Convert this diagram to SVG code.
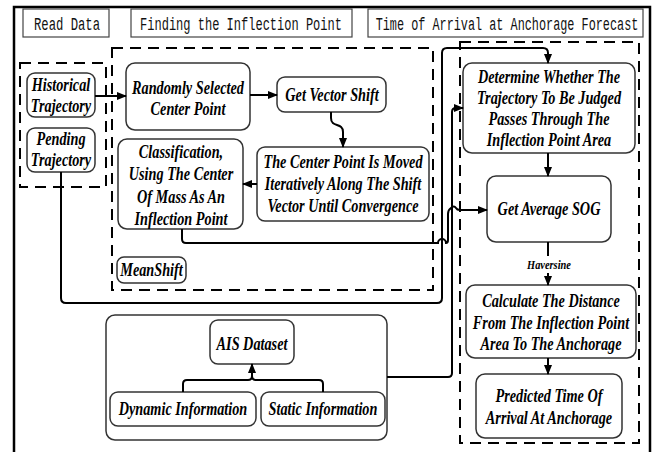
<svg xmlns="http://www.w3.org/2000/svg" width="656" height="452" viewBox="0 0 656 452">
<style>
.frame{fill:none;stroke:#000;stroke-width:2.5}
.hdr rect{fill:#fff;stroke:#444;stroke-width:1.2}
.hdr text{font-family:"Liberation Mono",monospace;font-size:18px;fill:#111;text-anchor:middle}
.dash{fill:none;stroke:#000;stroke-width:2;stroke-dasharray:11 7}
.node rect{fill:#fff;stroke:#333;stroke-width:1.5}
.node text{font-family:"Liberation Serif",serif;font-weight:bold;font-style:italic;font-size:19px;fill:#000;text-anchor:middle}
.conn path{fill:none;stroke:#000;stroke-width:2}
.lbl{font-family:"Liberation Serif",serif;font-weight:bold;font-style:italic;font-size:13px;fill:#000;text-anchor:middle}
</style>
<defs>
<marker id="arr" markerUnits="userSpaceOnUse" markerWidth="10" markerHeight="8" refX="9" refY="4" orient="auto">
<path d="M0,0 L10,4 L0,8 Z" fill="#000"/>
</marker>
</defs>
<rect width="656" height="452" fill="#fff"/>
<path class="frame" d="M14,452 V7 H650 V452"/>

<g id="hdr-read" class="hdr"><rect x="23" y="9" width="86" height="28"/><g transform="translate(67 0) scale(0.68 1)"><text x="0" y="30">Read Data</text></g></g>
<g id="hdr-find" class="hdr"><rect x="131" y="9" width="221" height="28"/><g transform="translate(241 0) scale(0.668 1)"><text x="0" y="30">Finding the Inflection Point</text></g></g>
<g id="hdr-time" class="hdr"><rect x="368" y="9" width="275" height="28"/><g transform="translate(507 0) scale(0.658 1)"><text x="0" y="30">Time of Arrival at Anchorage Forecast</text></g></g>

<g id="regions">
<rect class="dash" x="20" y="63" width="86" height="124"/>
<rect class="dash" x="112" y="48" width="321" height="242"/>
<rect class="dash" x="460" y="42" width="179" height="401"/>
</g>

<g id="historical" class="node"><rect x="27" y="73" width="68" height="44" rx="8"/><g transform="translate(61 0) scale(0.75 1)"><text x="0" y="91">Historical</text><text x="0" y="112">Trajectory</text></g></g>
<g id="pending" class="node"><rect x="27" y="128" width="68" height="44" rx="8"/><g transform="translate(61 0) scale(0.75 1)"><text x="0" y="145">Pending</text><text x="0" y="166">Trajectory</text></g></g>

<g id="random" class="node"><rect x="126" y="63" width="124" height="67" rx="9"/><g transform="translate(188 0) scale(0.75 1)"><text x="0" y="94">Randomly Selected</text><text x="0" y="115">Center Point</text></g></g>
<g id="vector" class="node"><rect x="277" y="77" width="109" height="35" rx="8"/><g transform="translate(332 0) scale(0.75 1)"><text x="0" y="101">Get Vector Shift</text></g></g>
<g id="moved" class="node"><rect x="257" y="147" width="172" height="74" rx="8"/><g transform="translate(343 0) scale(0.75 1)"><text x="0" y="168">The Center Point Is Moved</text><text x="0" y="190">Iteratively Along The Shift</text><text x="0" y="212">Vector Until Convergence</text></g></g>
<g id="classify" class="node"><rect x="118" y="139" width="125" height="90" rx="9"/><g transform="translate(181 0) scale(0.75 1)"><text x="0" y="158">Classification,</text><text x="0" y="180">Using The Center</text><text x="0" y="203">Of Mass As An</text><text x="0" y="225">Inflection Point</text></g></g>
<g id="meanshift" class="node"><rect x="117" y="257" width="69" height="26" rx="7"/><g transform="translate(151.5 0) scale(0.75 1)"><text x="0" y="276">MeanShift</text></g></g>

<g id="determine" class="node"><rect x="463" y="63" width="172" height="90" rx="9"/><g transform="translate(549 0) scale(0.75 1)"><text x="0" y="83">Determine Whether The</text><text x="0" y="104">Trajectory To Be Judged</text><text x="0" y="125">Passes Through The</text><text x="0" y="146">Inflection Point Area</text></g></g>
<g id="sog" class="node"><rect x="487" y="176" width="124" height="66" rx="9"/><g transform="translate(549 0) scale(0.75 1)"><text x="0" y="215">Get Average SOG</text></g></g>
<g id="distance" class="node"><rect x="466" y="285" width="170" height="73" rx="9"/><g transform="translate(551 0) scale(0.75 1)"><text x="0" y="307">Calculate The Distance</text><text x="0" y="329">From The Inflection Point</text><text x="0" y="350">Area To The Anchorage</text></g></g>
<g id="predicted" class="node"><rect x="476" y="374" width="146" height="64" rx="9"/><g transform="translate(549 0) scale(0.75 1)"><text x="0" y="402">Predicted Time Of</text><text x="0" y="424">Arrival At Anchorage</text></g></g>

<g id="ais-group" class="node"><rect x="106" y="315" width="281" height="125" rx="9"/></g>
<g id="ais" class="node"><rect x="210" y="320" width="84" height="44" rx="8"/><g transform="translate(252 0) scale(0.75 1)"><text x="0" y="350">AIS Dataset</text></g></g>
<g id="dynamic" class="node"><rect x="110" y="392" width="146" height="34" rx="8"/><g transform="translate(183 0) scale(0.75 1)"><text x="0" y="415">Dynamic Information</text></g></g>
<g id="static" class="node"><rect x="261" y="392" width="124" height="34" rx="8"/><g transform="translate(323 0) scale(0.75 1)"><text x="0" y="415">Static Information</text></g></g>

<g id="connectors" class="conn">
<path d="M95,96 H126" marker-end="url(#arr)"/>
<path d="M250,95 H277" marker-end="url(#arr)"/>
<path d="M331,112 V118 C331,128 343,122 343,132 V147" marker-end="url(#arr)"/>
<path d="M257,184 H243" marker-end="url(#arr)"/>
<path d="M61,172 V298 Q61,303 66,303 H437 Q442,303 442,298 V53 Q442,48 447,48 H543 Q548,48 548,53 V63" marker-end="url(#arr)"/>
<path d="M182,229 V239 Q182,243 186,243 H438 A4,4 0 0 1 446,243 Q448,243 448,240 V214 Q448,210 451,208 Q454,205 456,208 Q457,210 460,210 H487" marker-end="url(#arr)"/>
<path d="M387,377 H448 Q452,377 452,373 V112 Q452,108 456,108 H463" marker-end="url(#arr)"/>
<path d="M548,153 V176" marker-end="url(#arr)"/>
<path d="M548,242 V256"/>
<path d="M548,273 V285" marker-end="url(#arr)"/>
<path d="M548,358 V374" marker-end="url(#arr)"/>
<path d="M183,392 V384 Q183,380 187,380 H248 Q252,380 252,376 V364" marker-end="url(#arr)"/>
<path d="M323,392 V384 Q323,380 319,380 H256 Q252,380 252,376"/>
</g>
<g transform="translate(549 0) scale(0.8 1)"><text class="lbl" x="0" y="269">Haversine</text></g>
</svg>
